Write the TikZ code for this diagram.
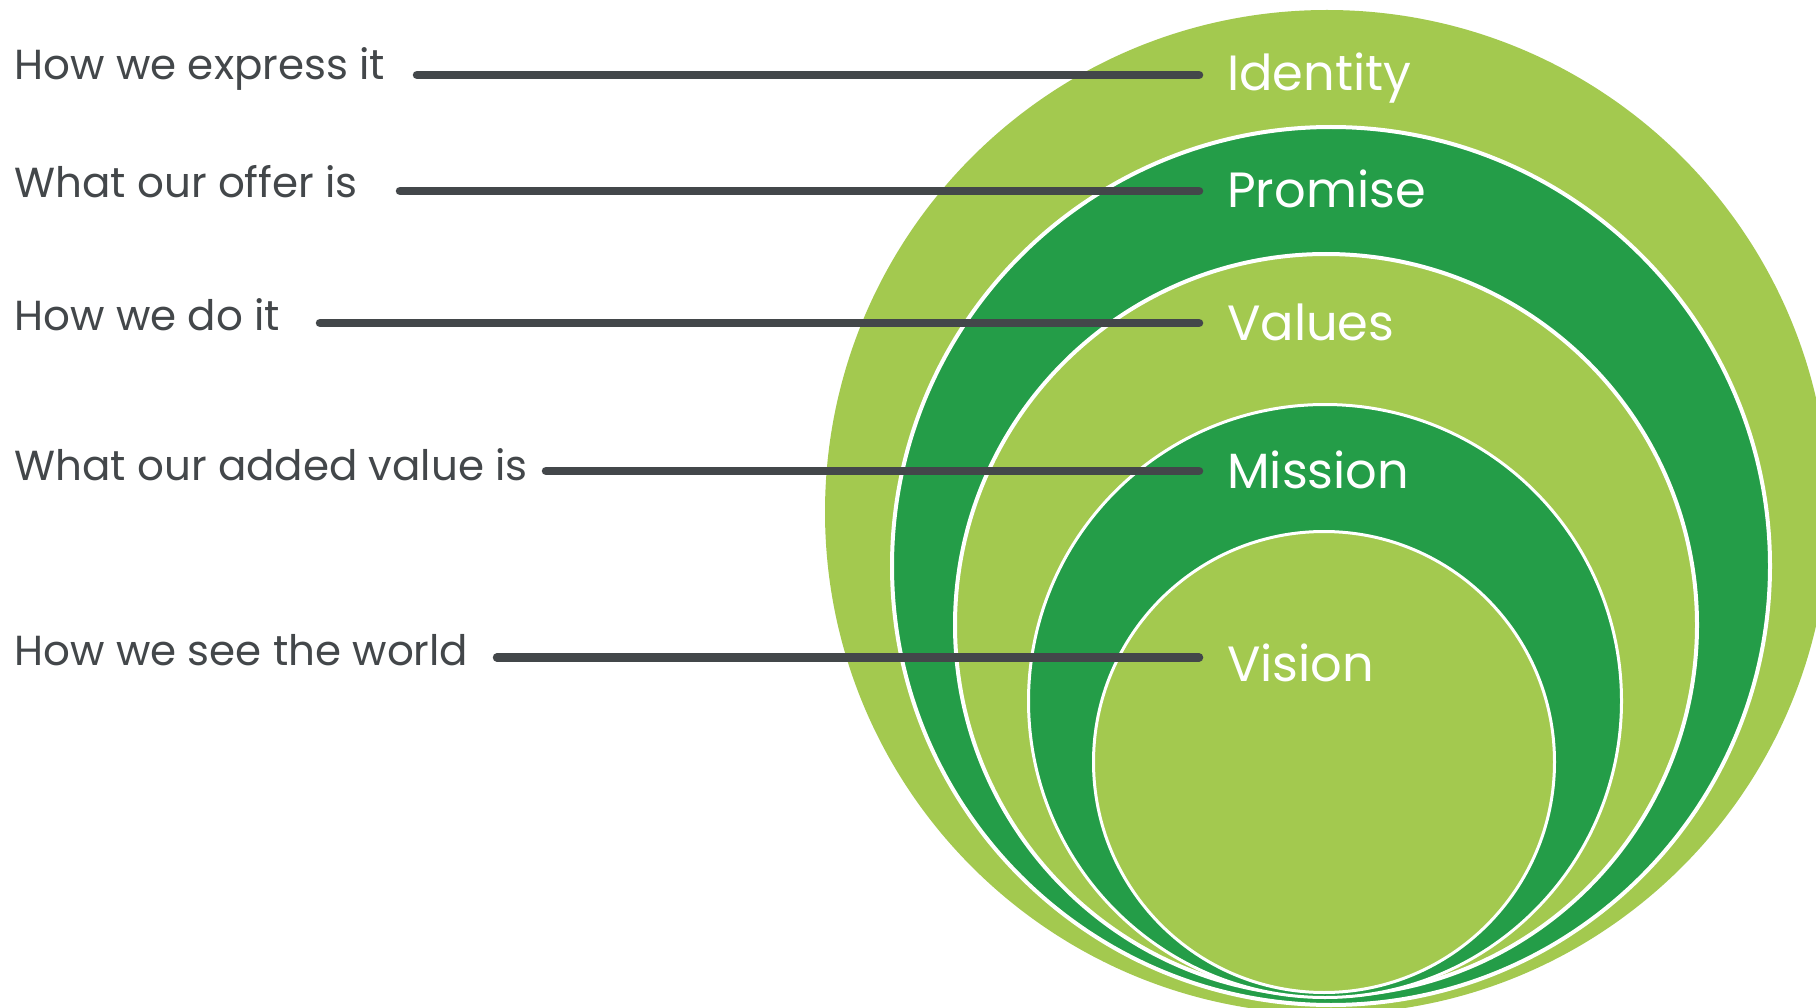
\documentclass[tikz,border=0pt]{standalone}
\usepackage{fontspec}
\setmainfont{Poppins}
\definecolor{lightgreen}{HTML}{A3C94F}
\definecolor{darkgreen}{HTML}{249D48}
\definecolor{linegray}{HTML}{43474A}
\begin{document}
\begin{tikzpicture}[x=1pt,y=-1pt,
  ring/.style={draw=white},
  conn/.style={draw=linegray,line width=8.5pt,line cap=round},
  leftlabel/.style={anchor=base west,inner sep=0pt,text=linegray,font=\fontsize{42}{48}\selectfont},
  rightlabel/.style={anchor=base west,inner sep=0pt,text=white,font=\fontsize{49.5}{56}\selectfont}]
\useasboundingbox (0,0) rectangle (1816,1008);
% circles
\fill[lightgreen] (1327,512) circle[radius=502pt];
\path[ring,fill=darkgreen,line width=4pt] (1331,566) circle[radius=439pt];
\path[ring,fill=lightgreen,line width=4pt] (1326,625) circle[radius=371pt];
\path[ring,fill=darkgreen,line width=3pt] (1325,701) circle[radius=296.5pt];
\path[ring,fill=lightgreen,line width=3pt] (1324,762) circle[radius=230.5pt];
% left labels
\node[leftlabel] (l1) at (14.5,80) {How we express it};
\node[leftlabel] (l2) at (14.5,198) {What our offer is};
\node[leftlabel] (l3) at (14.5,331) {How we do it};
\node[leftlabel] (l4) at (14.5,480) {What our added value is};
\node[leftlabel] (l5) at (14.5,665) {How we see the world};
% right labels
\node[rightlabel] (r1) at (1227,91) {Identity};
\node[rightlabel] (r2) at (1227,208) {Promise};
\node[rightlabel] (r3) at (1227,341) {Values};
\node[rightlabel] (r4) at (1227,488) {Mission};
\node[rightlabel] (r5) at (1227,681) {Vision};
% connector ends
\coordinate (s1) at (417,75);   \coordinate (e1) at (1199,75);
\coordinate (s2) at (400,191);  \coordinate (e2) at (1199,191);
\coordinate (s3) at (320,323);  \coordinate (e3) at (1199,323);
\coordinate (s4) at (546,471);  \coordinate (e4) at (1199,471);
\coordinate (s5) at (497,657.5);\coordinate (e5) at (1199,657.5);
\foreach \i in {1,...,5} {\draw[conn] (s\i) -- (e\i);}
\end{tikzpicture}
\end{document}
